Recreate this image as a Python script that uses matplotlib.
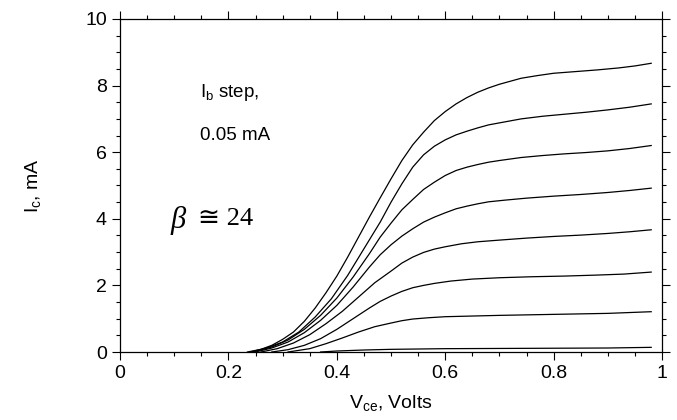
import matplotlib.pyplot as plt
from matplotlib.ticker import MultipleLocator

plt.rcParams['font.family'] = ['Liberation Sans', 'DejaVu Sans']
plt.rcParams['mathtext.fontset'] = 'custom'
plt.rcParams['mathtext.rm'] = 'Liberation Sans'

# Ic vs Vce curves, one per base current step (0.05 mA)
vce_1 = [0.235, 0.26, 0.28, 0.30, 0.32, 0.34, 0.36, 0.38, 0.40, 0.42, 0.44, 0.46, 0.48, 0.50, 0.52, 0.54,
         0.56, 0.58, 0.60, 0.62, 0.64, 0.66, 0.68, 0.70, 0.72, 0.74, 0.77, 0.80, 0.84, 0.88, 0.92, 0.95, 0.98]
ic_1 = [0.0, 0.08, 0.2, 0.38, 0.6, 0.92, 1.32, 1.78, 2.28, 2.85, 3.45, 4.05, 4.63, 5.2, 5.75, 6.22,
        6.6, 6.95, 7.22, 7.45, 7.64, 7.8, 7.93, 8.04, 8.13, 8.22, 8.3, 8.37, 8.42, 8.47, 8.53, 8.59, 8.67]

vce_2 = [0.24, 0.27, 0.30, 0.33, 0.36, 0.39, 0.42, 0.45, 0.48, 0.50, 0.52, 0.54, 0.56, 0.58, 0.60,
         0.62, 0.64, 0.66, 0.68, 0.70, 0.74, 0.78, 0.82, 0.86, 0.90, 0.94, 0.98]
ic_2 = [0.0, 0.12, 0.3, 0.6, 1.05, 1.6, 2.3, 3.1, 3.9, 4.5, 5.05, 5.55, 5.92, 6.18, 6.37,
        6.52, 6.63, 6.73, 6.82, 6.88, 7.0, 7.08, 7.14, 7.2, 7.27, 7.35, 7.45]

vce_3 = [0.245, 0.28, 0.31, 0.34, 0.37, 0.40, 0.43, 0.46, 0.48, 0.50, 0.52, 0.54, 0.56, 0.58, 0.60,
         0.62, 0.64, 0.66, 0.68, 0.70, 0.74, 0.78, 0.82, 0.86, 0.90, 0.94, 0.98]
ic_3 = [0.0, 0.15, 0.36, 0.68, 1.1, 1.62, 2.25, 2.95, 3.45, 3.87, 4.27, 4.58, 4.88, 5.1, 5.3,
        5.45, 5.55, 5.63, 5.7, 5.75, 5.84, 5.9, 5.95, 5.99, 6.04, 6.11, 6.2]

vce_4 = [0.25, 0.28, 0.31, 0.34, 0.37, 0.40, 0.43, 0.46, 0.48, 0.50, 0.52, 0.54, 0.56, 0.58, 0.60,
         0.62, 0.64, 0.66, 0.68, 0.71, 0.75, 0.80, 0.85, 0.90, 0.94, 0.98]
ic_4 = [0.0, 0.12, 0.3, 0.58, 0.95, 1.4, 1.95, 2.55, 2.92, 3.22, 3.48, 3.7, 3.9, 4.05, 4.18,
        4.3, 4.38, 4.45, 4.51, 4.56, 4.62, 4.68, 4.73, 4.79, 4.85, 4.92]

vce_5 = [0.26, 0.29, 0.32, 0.35, 0.38, 0.41, 0.44, 0.47, 0.50, 0.52, 0.54, 0.56, 0.58, 0.60,
         0.63, 0.66, 0.70, 0.75, 0.80, 0.85, 0.90, 0.94, 0.98]
ic_5 = [0.0, 0.1, 0.27, 0.52, 0.85, 1.22, 1.65, 2.08, 2.43, 2.67, 2.85, 2.99, 3.09, 3.16,
        3.25, 3.31, 3.36, 3.42, 3.47, 3.51, 3.56, 3.61, 3.67]

vce_6 = [0.28, 0.31, 0.34, 0.37, 0.40, 0.43, 0.46, 0.48, 0.50, 0.52, 0.54, 0.56, 0.58,
         0.61, 0.65, 0.70, 0.76, 0.82, 0.88, 0.93, 0.98]
ic_6 = [0.0, 0.07, 0.2, 0.4, 0.68, 1.0, 1.32, 1.52, 1.68, 1.82, 1.93, 2.0, 2.06,
        2.13, 2.19, 2.23, 2.26, 2.28, 2.31, 2.34, 2.4]

vce_7 = [0.31, 0.35, 0.38, 0.41, 0.44, 0.47, 0.50, 0.52, 0.54, 0.57, 0.60, 0.65, 0.70, 0.80, 0.90, 0.98]
ic_7 = [0.0, 0.1, 0.25, 0.42, 0.6, 0.76, 0.87, 0.94, 0.99, 1.03, 1.06, 1.08, 1.1, 1.13, 1.16, 1.21]

vce_8 = [0.37, 0.40, 0.45, 0.50, 0.60, 0.75, 0.90, 0.98]
ic_8 = [0.0, 0.03, 0.06, 0.08, 0.1, 0.11, 0.12, 0.14]

curves = [(vce_1, ic_1), (vce_2, ic_2), (vce_3, ic_3), (vce_4, ic_4),
          (vce_5, ic_5), (vce_6, ic_6), (vce_7, ic_7), (vce_8, ic_8)]

x_ticks = [0, 0.2, 0.4, 0.6, 0.8, 1]
x_labels = ['0', '0.2', '0.4', '0.6', '0.8', '1']
y_ticks = [0, 2, 4, 6, 8, 10]
y_labels = ['0', '2', '4', '6', '8', '10']

fig = plt.figure(figsize=(6.77, 4.2), dpi=100)
ax = fig.add_axes([0.1773, 0.1619, 0.8006, 0.7929])

for x, y in curves:
    ax.plot(x, y, color='black', lw=0.9)

ax.set_xlim(0, 1)
ax.set_ylim(0, 10)
ax.set_xticks(x_ticks, x_labels)
ax.set_yticks(y_ticks, y_labels)
ax.xaxis.set_minor_locator(MultipleLocator(0.05))
ax.yaxis.set_minor_locator(MultipleLocator(0.5))
ax.tick_params(which='both', direction='out', top=True, right=True, labelsize=14, width=0.8)
ax.tick_params(which='major', length=6)
ax.tick_params(which='minor', length=3)
for s in ax.spines.values():
    s.set_linewidth(0.9)

ax.set_xlabel(r'$\mathregular{V_{ce}}$, Volts', fontsize=14, labelpad=8)
ax.set_ylabel(r'$\mathregular{I_c}$, mA', fontsize=14, labelpad=30)

ax.text(0.148, 7.8, r'$\mathregular{I_b}$ step,', fontsize=13.5, ha='left', va='center')
ax.text(0.148, 6.5, '0.05 mA', fontsize=13.5, ha='left', va='center')
ax.text(0.093, 3.95, '\u03b2', fontsize=22, style='italic', ha='left', va='center',
        family=['Liberation Serif', 'DejaVu Serif'])
ax.text(0.143, 4.0, '\u2245 24', fontsize=19, ha='left', va='center',
        family=['Liberation Serif', 'DejaVu Serif', 'DejaVu Sans'])

fig.savefig('out.png', dpi=100)
